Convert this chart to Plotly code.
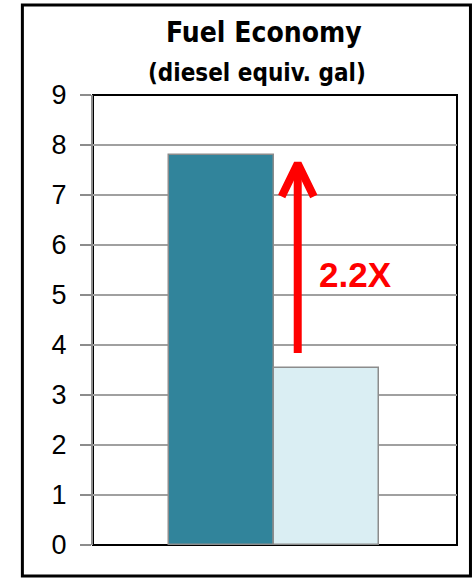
import plotly.graph_objects as go

# Date
categorii = [0, 1]
valori = [7.8, 3.55]
culori_bare = ['#31849B', '#DAEEF3']
y_ticks = [0, 1, 2, 3, 4, 5, 6, 7, 8, 9]

# Sageata 2.2X (coordonate in unitatile graficului)
sageata_x = [0.726, 0.726]
sageata_y = [3.84, 7.50]
varf_x = [0.573, 0.726, 0.879]
varf_y = [6.97, 7.63, 6.97]
eticheta = '2.2X'
eticheta_pos = (1.28, 5.42)

COLOR_GRID = '#A0A0A0'
COLOR_RED = '#FF0000'
FONT_COND = 'DejaVu Sans Condensed, Liberation Sans'

fig = go.Figure()

fig.add_trace(go.Bar(
    x=categorii, y=valori, width=1,
    marker=dict(color=culori_bare, line=dict(color='#8C8C8C', width=1.5)),
    showlegend=False, hoverinfo='y'
))

# sageata rosie
fig.add_trace(go.Scatter(
    x=sageata_x, y=sageata_y, mode='lines',
    line=dict(color=COLOR_RED, width=8), showlegend=False, hoverinfo='skip'
))
fig.add_trace(go.Scatter(
    x=varf_x, y=varf_y, mode='lines',
    line=dict(color=COLOR_RED, width=8), showlegend=False, hoverinfo='skip'
))

fig.add_annotation(
    x=eticheta_pos[0], y=eticheta_pos[1], text=f'<b>{eticheta}</b>',
    showarrow=False, font=dict(color=COLOR_RED, size=35, family='Liberation Sans')
)

# titlu
fig.add_annotation(
    xref='paper', yref='paper', x=0.47, y=1.138, yanchor='middle',
    text='<b>Fuel Economy</b>', showarrow=False,
    font=dict(size=28, color='black', family=FONT_COND)
)
fig.add_annotation(
    xref='paper', yref='paper', x=0.45, y=1.049, yanchor='middle',
    text='<b>(diesel equiv. gal)</b>', showarrow=False,
    font=dict(size=24, color='black', family=FONT_COND)
)

# chenarul zonei de plot (sus, dreapta, jos negru)
fig.add_shape(type='rect', xref='paper', yref='paper', x0=0, x1=1, y0=0, y1=1,
              line=dict(color='black', width=2), layer='below')
# chenarul exterior
fig.add_shape(type='rect', xref='paper', yref='paper',
              x0=-0.194, x1=1.037, y0=-0.069, y1=1.2,
              line=dict(color='black', width=3))

fig.update_layout(
    width=475, height=579,
    margin=dict(l=93, r=18, t=95, b=34),
    paper_bgcolor='white', plot_bgcolor='white',
    bargap=0,
    font=dict(family='Liberation Sans, Arial', color='black'),
)
fig.update_xaxes(range=[-1.224, 2.243], showticklabels=False, showgrid=False,
                 zeroline=False, ticks='')
fig.update_yaxes(range=[0, 9], tickvals=y_ticks, showgrid=True,
                 gridcolor=COLOR_GRID, gridwidth=2, zeroline=False,
                 showline=True, linecolor='#8C8C8C', linewidth=2,
                 ticks='outside', ticklen=11, tickcolor='#8C8C8C', tickwidth=2,
                 ticklabelstandoff=8,
                 tickfont=dict(size=27, color='black', family='Liberation Sans'))

fig.write_html('out.html', config={'displayModeBar': False},
               post_script='document.body.style.margin="0";')
